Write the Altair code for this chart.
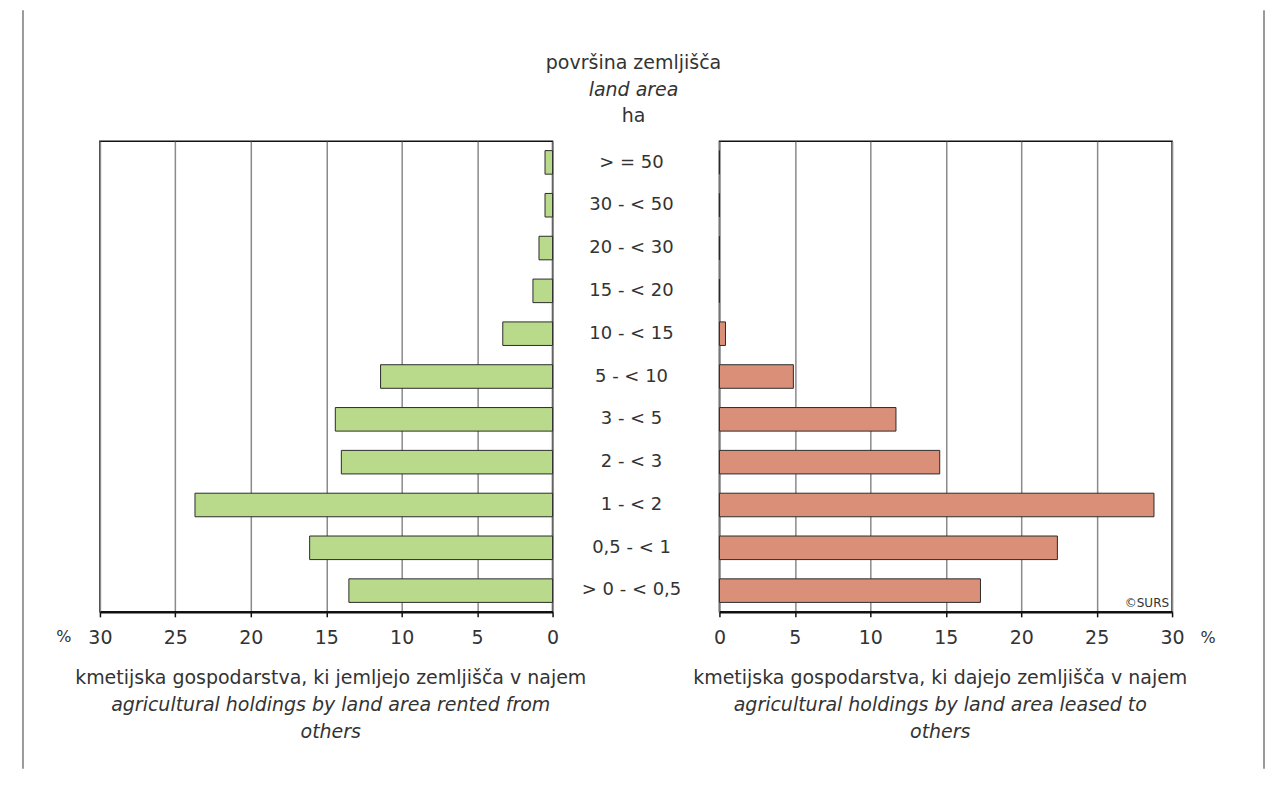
import altair as alt
import pandas as pd

# ---- data ----
categories = ["> = 50", "30 - < 50", "20 - < 30", "15 - < 20", "10 - < 15",
              "5 - < 10", "3 - < 5", "2 - < 3", "1 - < 2", "0,5 - < 1", "> 0 - < 0,5"]
rented_from_others = [0.5, 0.5, 0.9, 1.3, 3.3, 11.4, 14.4, 14.0, 23.7, 16.1, 13.5]
leased_to_others = [0.0, 0.0, 0.0, 0.0, 0.4, 4.9, 11.7, 14.6, 28.8, 22.4, 17.3]
tick_values = [0, 5, 10, 15, 20, 25, 30]

header_lines = ["površina zemljišča", "land area", "ha"]
left_title = ["kmetijska gospodarstva, ki jemljejo zemljišča v najem",
              "agricultural holdings by land area rented from", "others"]
right_title = ["kmetijska gospodarstva, ki dajejo zemljišča v najem",
               "agricultural holdings by land area leased to", "others"]
unit_label = "%"
credit = "©SURS"

# ---- styling ----
FONT = "DejaVu Sans"
TXT = "#333333"
W_SIDE = 453
W_MID = 167
H = 471

df = pd.DataFrame({"cat": categories, "rented": rented_from_others, "leased": leased_to_others})
one = pd.DataFrame({"k": [0]})

yenc = alt.Y("cat:N", sort=categories, axis=None,
             scale=alt.Scale(paddingInner=0.45, paddingOuter=0.22))


def xaxis():
    return alt.Axis(values=tick_values, format="d", title=None, grid=True,
                    gridColor="#8a8a8a", gridWidth=1.5,
                    domainColor="#111111", domainWidth=2.5,
                    tickColor="#111111", tickSize=5, tickWidth=1.5,
                    labelFont=FONT, labelFontSize=19, labelColor=TXT,
                    labelPadding=12, labelFlush=False, labelOverlap=False)


def text(s, x, y, italic=False, size=19, align="center"):
    return alt.Chart(one).mark_text(
        font=FONT, fontSize=size, color=TXT, align=align, baseline="middle",
        fontStyle="italic" if italic else "normal"
    ).encode(x=alt.value(x), y=alt.value(y), text=alt.value(s))


def vrule(x):
    return alt.Chart(one).mark_rule(color="#7a7a7a", strokeWidth=1.5).encode(
        x=alt.value(x), y=alt.value(-131), y2=alt.value(628))


left_bars = alt.Chart(df).mark_bar(fill="#b9da8b", stroke="#2b2b2b", strokeWidth=1).encode(
    x=alt.X("rented:Q", scale=alt.Scale(domain=[0, 30], reverse=True, nice=False), axis=xaxis()),
    y=yenc,
)

left = alt.layer(
    left_bars,
    vrule(-77),
    text(unit_label, -36, 496, size=16),
    text(left_title[0], 231, 537),
    text(left_title[1], 231, 564, italic=True),
    text(left_title[2], 231, 591, italic=True),
).properties(width=W_SIDE, height=H)

mid_labels = alt.Chart(df).mark_text(
    font=FONT, fontSize=18, color=TXT, align="center", baseline="middle"
).encode(x=alt.value(79), y=yenc, text="cat:N")

mid = alt.layer(
    mid_labels,
    text(header_lines[0], 81, -78),
    text(header_lines[1], 81, -51, italic=True),
    text(header_lines[2], 81, -25),
).properties(width=W_MID, height=H, view=alt.ViewBackground(stroke="transparent"))

right_bars = alt.Chart(df).mark_bar(fill="#da8f79", stroke="#2b2b2b", strokeWidth=1).encode(
    x=alt.X("leased:Q", scale=alt.Scale(domain=[0, 30], nice=False), axis=xaxis()),
    y=yenc,
)

right = alt.layer(
    right_bars,
    vrule(545),
    text(unit_label, 489, 497, size=16),
    text(credit, 450, 462, size=12, align="right"),
    text(right_title[0], 221, 537),
    text(right_title[1], 221, 564, italic=True),
    text(right_title[2], 221, 591, italic=True),
).properties(width=W_SIDE, height=H)

chart = alt.hconcat(left, mid, right, spacing=0, bounds="flush").properties(
    padding={"left": 13, "top": 0, "right": 0, "bottom": 0},
    background="white",
).configure_view(stroke="#111111", strokeWidth=1.5)

chart.save("out.html", embed_options={"renderer": "svg", "actions": False})
